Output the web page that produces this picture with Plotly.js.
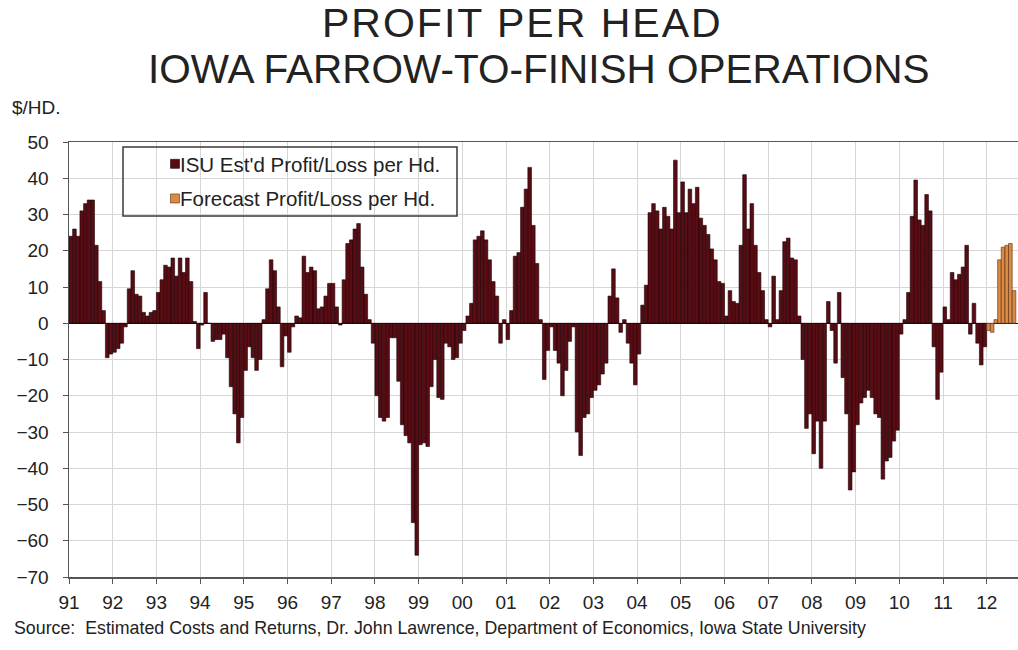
<!DOCTYPE html>
<html>
<head>
<meta charset="utf-8">
<script src="https://cdn.plot.ly/plotly-3.0.1.min.js"></script>
<style>
  html, body { margin: 0; padding: 0; background: #ffffff; }
  #chart { width: 1018px; height: 650px; }
</style>
</head>
<body>
<div id="chart"></div>
<script>
// ---- Data: monthly profit/loss per head ($/hd), Jan..Dec of each year ----
const startYear = 1991;
const isu1991 = [24, 26, 24, 31, 33, 34, 34, 21.5, 11.5, 3.5, -9.5, -8.5];
const isu1992 = [-8, -7, -5.5, -1, 9.5, 14.5, 8, 7.5, 3, 2, 3, 3.5];
const isu1993 = [8.5, 12, 16, 15.5, 18, 13, 18, 14, 18, 11.5, 0.5, -7];
const isu1994 = [-0.5, 8.5, 0, -5, -4.5, -4.5, -3, -9.5, -17.5, -25, -33, -26];
const isu1995 = [-13, -6.5, -9.5, -13, -10, 1, 9.5, 17.5, 14.5, 4.5, -12, -3.5];
const isu1996 = [-8, -1, 2, 1.5, 18.5, 14, 15.5, 14.5, 4, 4.5, 7.5, 11];
const isu1997 = [11, 4.5, -0.5, 12, 22, 23, 26, 27.5, 15.5, 8, 1, -5.5];
const isu1998 = [-20, -26, -27, -26, -4, -4, -16, -28, -31, -33, -55, -64];
const isu1999 = [-33.5, -33, -34, -17.5, -10, -20.5, -21, -5.5, -6.5, -10, -9.5, -5.5];
const isu2000 = [-2, 2, 5.5, 23, 24, 25.5, 23, 17.5, 11.5, 7.5, -5.5, 1];
const isu2001 = [-4.5, 3.5, 18.5, 19.5, 32, 37, 43, 27, 16.5, 1, -15.5, -7.5];
const isu2002 = [-1, -7.5, -11, -20, -13, -5, -1, -30, -36.5, -26, -25, -20.5];
const isu2003 = [-18.5, -17, -14, -11, 7.5, 15, 7, -2.5, 1, -5.5, -11, -17];
const isu2004 = [-8.5, 5, 10.5, 30.5, 33, 31, 26, 32, 29.5, 26, 45, 30.5];
const isu2005 = [39, 30.5, 37, 33, 37.5, 29, 27, 24.5, 20.5, 17.5, 11.5, 11];
const isu2006 = [2, 9, 6, 5.5, 21.5, 41, 26, 33, 21.5, 14, 9, 1];
const isu2007 = [-1, 13, 1, 9, 22.5, 23.5, 18, 17.5, 2, -10, -29, -25];
const isu2008 = [-36, -27, -40, -27, 6, -2, -11, 8.5, -15, -25, -46, -41];
const isu2009 = [-28, -22, -20.5, -18.5, -20.5, -25, -26, -43, -38, -37, -32.5, -29.5];
const isu2010 = [-3, 1, 8.5, 29.5, 39.5, 28.5, 27, 35.5, 31, -6.5, -21, -13.5];
const isu2011 = [4.5, 1, 14, 12, 13.5, 15.5, 21.5, -3, 5.5, -5.5, -11.5, -6.5];
const forecast2012 = [-2, -2.5, 1, 17.5, 21, 21.5, 22, 9];   // Jan..Aug 2012

const yearTicks = [1991,1992,1993,1994,1995,1996,1997,1998,1999,2000,2001,
                   2002,2003,2004,2005,2006,2007,2008,2009,2010,2011,2012];
const yearLabels = ['91','92','93','94','95','96','97','98','99','00','01',
                    '02','03','04','05','06','07','08','09','10','11','12'];

const seriesNames = ["ISU Est'd Profit/Loss per Hd.", "Forecast Profit/Loss per Hd."];

// ---- Build traces ----
const isuValues = [].concat(isu1991, isu1992, isu1993, isu1994, isu1995, isu1996,
  isu1997, isu1998, isu1999, isu2000, isu2001, isu2002, isu2003, isu2004, isu2005,
  isu2006, isu2007, isu2008, isu2009, isu2010, isu2011);
const monthPos = i => startYear + (i + 0.5) / 12;   // centre of month i
const isuX = isuValues.map((_, i) => monthPos(i));
const fcX = forecast2012.map((_, i) => monthPos(isuValues.length + i));

const traces = [
  {
    type: 'bar', name: seriesNames[0], x: isuX, y: isuValues, width: 1/12,
    marker: { color: '#580c14', line: { color: '#1e0205', width: 0.6 } },
    legendgroup: 'a', hoverinfo: 'x+y'
  },
  {
    type: 'bar', name: seriesNames[1], x: fcX, y: forecast2012, width: 1/12,
    marker: { color: '#d98a45', line: { color: '#5a2a0e', width: 0.6 } },
    legendgroup: 'b', hoverinfo: 'x+y'
  }
];

const FONT = 'Liberation Sans, Arial, sans-serif';
const L = 69, T = 142, W = 949, H = 435;
const px = x => (x - L) / W;           // page px -> paper x
const py = y => (T + H - y) / H;        // page px -> paper y

const layout = {
  width: 1018, height: 650,
  margin: { l: L, r: 1018 - L - W, t: T, b: 650 - T - H, pad: 0 },
  paper_bgcolor: '#ffffff', plot_bgcolor: '#ffffff',
  font: { family: FONT, color: '#222222' },
  barmode: 'overlay', bargap: 0,
  showlegend: true,
  legend: {
    x: px(140), y: py(144), xanchor: 'left', yanchor: 'top',
    bgcolor: 'rgba(0,0,0,0)', borderwidth: 0,
    font: { family: FONT, size: 20.5, color: '#222222' },
    tracegroupgap: 5, itemwidth: 30
  },
  shapes: [
    { type: 'rect', xref: 'paper', yref: 'paper', layer: 'above',
      x0: px(123), x1: px(457), y0: py(147), y1: py(216),
      fillcolor: 'rgba(0,0,0,0)', line: { color: '#3a3a3a', width: 1.5 } }
  ],
  xaxis: {
    range: [1991, 1991 + W / 43.7],
    tickmode: 'array', tickvals: yearTicks, ticktext: yearLabels,
    tickfont: { family: FONT, size: 19, color: '#222222' },
    showgrid: true, gridcolor: '#d6d6d6', gridwidth: 1,
    showline: true, linecolor: '#555555', linewidth: 1.5, mirror: true,
    ticks: 'outside', ticklen: 5, tickcolor: '#555555',
    ticklabelstandoff: 3, zeroline: false, fixedrange: true
  },
  yaxis: {
    range: [-70, 50], dtick: 10, tick0: 0,
    tickfont: { family: FONT, size: 19, color: '#222222' },
    showgrid: true, gridcolor: '#d6d6d6', gridwidth: 1,
    showline: true, linecolor: '#555555', linewidth: 1.5,
    ticks: 'outside', ticklen: 5, tickcolor: '#555555',
    ticklabelstandoff: 10,
    zeroline: true, zerolinecolor: '#2a0406', zerolinewidth: 1.2, fixedrange: true
  },
  annotations: [
    { text: 'PROFIT PER HEAD', xref: 'paper', yref: 'paper', x: px(522), y: py(23),
      xanchor: 'center', yanchor: 'middle', showarrow: false,
      font: { family: FONT, size: 41, color: '#222222' } },
    { text: 'IOWA FARROW-TO-FINISH OPERATIONS', xref: 'paper', yref: 'paper', x: px(539), y: py(69),
      xanchor: 'center', yanchor: 'middle', showarrow: false,
      font: { family: FONT, size: 40.5, color: '#222222' } },
    { text: '$/HD.', xref: 'paper', yref: 'paper', x: px(10), y: py(108),
      xanchor: 'left', yanchor: 'middle', showarrow: false,
      font: { family: FONT, size: 19, color: '#222222' } },
    { text: 'Source:  Estimated Costs and Returns, Dr. John Lawrence, Department of Economics, Iowa State University',
      xref: 'paper', yref: 'paper', x: px(12), y: py(628),
      xanchor: 'left', yanchor: 'middle', showarrow: false,
      font: { family: FONT, size: 17.8, color: '#222222' } }
  ]
};

Plotly.newPlot('chart', traces, layout, { staticPlot: true, displayModeBar: false }).then(gd => {
  // the reference's first title line is set a little wider (letter-spaced)
  gd.querySelectorAll('.annotation-text').forEach(t => {
    if (t.textContent === 'PROFIT PER HEAD') t.style.letterSpacing = '2px';
  });
  // legend swatches: smaller and placed right next to the label, as in the reference
  gd.querySelectorAll('.legend .legendpoints').forEach(g => {
    const prev = g.getAttribute('transform') || '';
    g.setAttribute('transform', prev + ' translate(15,0)');
    g.querySelectorAll('path').forEach(p => p.setAttribute('d', 'M4.5,4.5H-4.5V-4.5H4.5Z'));
  });
});
</script>
</body>
</html>
